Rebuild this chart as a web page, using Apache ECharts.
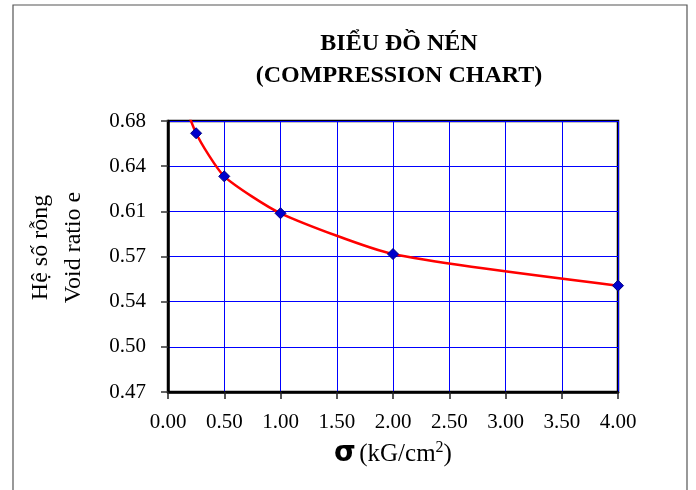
<!DOCTYPE html>
<html>
<head>
<meta charset="utf-8">
<script src="https://cdn.jsdelivr.net/npm/echarts@6/dist/echarts.min.js"></script>
<style>
html,body{margin:0;padding:0;background:#fff;}
#chart{width:696px;height:490px;}
</style>
</head>
<body>
<div id="chart"></div>
<script>
// ---- data ----
const sigma = [0, 0.25, 0.5, 1, 2, 4];
const voidRatio = [0.73, 0.6705, 0.6371, 0.6085, 0.5769, 0.5524];
const yTickLabels = ['0.47', '0.50', '0.54', '0.57', '0.61', '0.64', '0.68'];
const yMin = 0.47, yMax = 0.68, yStep = 0.035;
const xMin = 0, xMax = 4, xStep = 0.5;
const titleLines = ['BIỂU ĐỒ NÉN', '(COMPRESSION CHART)'];
const yNameLines = ['Hệ số rỗng', 'Void ratio e'];

const serif = '"Liberation Serif", "DejaVu Serif", serif';
const chart = echarts.init(document.getElementById('chart'));

const option = {
  animation: false,
  backgroundColor: '#fff',
  grid: {
    left: 168, top: 121, right: 78, bottom: 98,
    show: true, borderColor: '#000', borderWidth: 2.5, backgroundColor: 'transparent'
  },
  xAxis: {
    type: 'value', min: xMin, max: xMax, interval: xStep,
    axisLine: { show: true, lineStyle: { color: '#000', width: 2.5 } },
    axisTick: { show: true, length: 7, lineStyle: { color: '#222', width: 1.5 } },
    axisLabel: { margin: 20, color: '#000', fontFamily: serif, fontSize: 21,
      formatter: v => v.toFixed(2) },
    splitLine: { show: true, lineStyle: { color: '#0000ff', width: 1 } },
    name: '{s|σ} {t|(kG/cm}{p|2}{t|)}',
    nameLocation: 'middle', nameGap: 48,
    nameTextStyle: {
      rich: {
        s: { fontFamily: '"DejaVu Sans", sans-serif', fontWeight: 'bold', fontSize: 28, color: '#000' },
        t: { fontFamily: serif, fontSize: 25, color: '#000' },
        p: { fontFamily: serif, fontSize: 16, color: '#000', padding: [0, 0, 12, 0] }
      }
    }
  },
  yAxis: {
    type: 'value', min: yMin, max: yMax, interval: yStep,
    axisLine: { show: true, lineStyle: { color: '#000', width: 2.5 } },
    axisTick: { show: true, length: 7, lineStyle: { color: '#333', width: 1.5 } },
    axisLabel: { margin: 22, color: '#000', fontFamily: serif, fontSize: 21,
      formatter: v => yTickLabels[Math.round((v - yMin) / yStep)] },
    splitLine: { show: true, lineStyle: { color: '#0000ff', width: 1 } },
    name: yNameLines.join('\n'),
    nameLocation: 'middle', nameRotate: 90, nameGap: 78,
    nameTextStyle: { fontFamily: serif, fontSize: 24, color: '#000', lineHeight: 33, padding: [0, 0, 0, 18] }
  },
  series: [{
    type: 'line',
    data: sigma.map((s, i) => [s, voidRatio[i]]),
    smooth: 0.2,
    clip: true,
    lineStyle: { color: '#ff0000', width: 2.5 },
    symbol: 'diamond', symbolSize: 11,
    itemStyle: { color: '#0000cc', borderColor: '#000080', borderWidth: 1 }
  }],
  graphic: [
    { type: 'rect', shape: { x: 13, y: 5, width: 674, height: 520 },
      style: { fill: 'none', stroke: '#555', lineWidth: 1.2 }, silent: true },
    { type: 'text', style: { x: 399, y: 44, text: titleLines[0], textAlign: 'center', textVerticalAlign: 'middle',
      font: 'bold 24px ' + serif, fill: '#000' } },
    { type: 'text', style: { x: 399, y: 76, text: titleLines[1], textAlign: 'center', textVerticalAlign: 'middle',
      font: 'bold 24px ' + serif, fill: '#000' } }
  ]
};
chart.setOption(option);
</script>
</body>
</html>
